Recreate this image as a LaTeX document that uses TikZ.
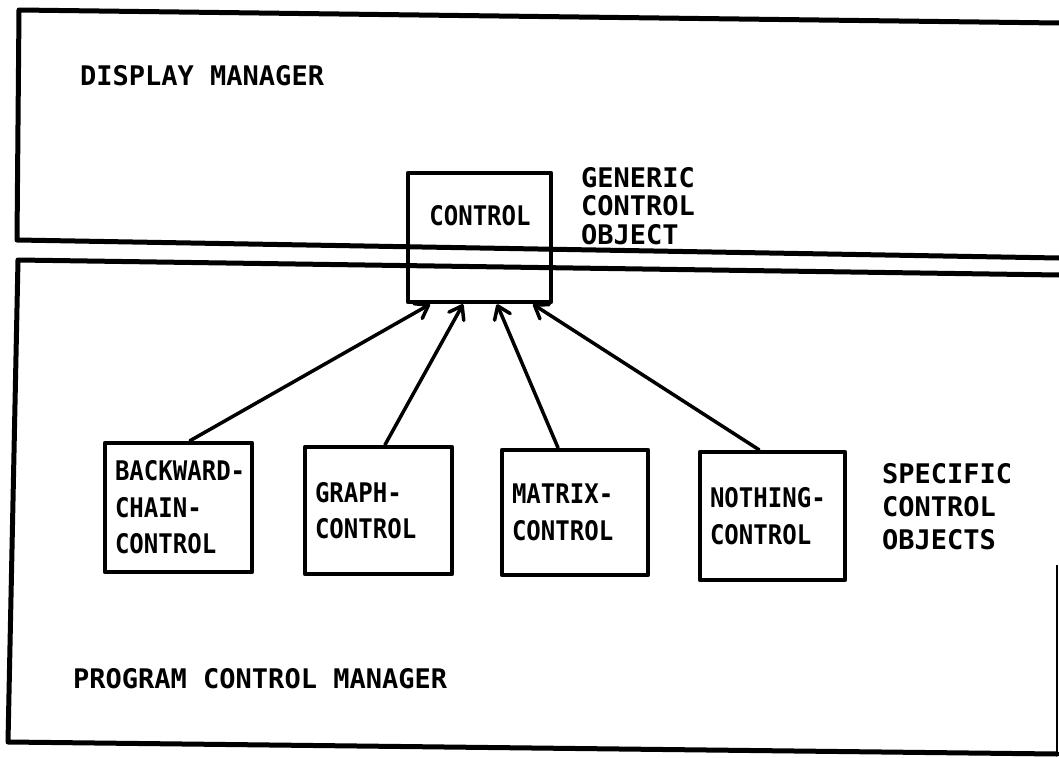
\documentclass[tikz,border=0pt]{standalone}
\usepackage{fontspec}
\newfontfamily\lblfont{DejaVu Sans Mono Bold}
\newfontfamily\boxfont{DejaVu Sans Mono Bold}[FakeStretch=0.89]
\usetikzlibrary{arrows.meta}
\begin{document}
\begin{tikzpicture}[x=1pt,y=-1pt,
  mgrframe/.style={line width=5pt, line join=round, line cap=round},
  objbox/.style={draw, line width=4.5pt, line join=round, inner xsep=10pt, inner ysep=0pt,
    align=left, font=\boxfont\fontsize{27}{36.5}\selectfont},
  boxtext/.style={inner sep=0pt, font=\boxfont\fontsize{27}{32}\selectfont},
  areatitle/.style={inner sep=0pt, anchor=north west, align=left},
  inherits/.style={line width=3.5pt, line cap=round,
    -{Straight Barb[length=12pt,width=17pt,line cap=round,line join=round]}}
]
\useasboundingbox (0,0) rectangle (1059,757);

% display manager area (open to the right)
\draw[mgrframe] (1059,258) -- (17,240) -- (19,10) -- (1059,23);
% program control manager area
\draw[mgrframe] (1059,275) -- (18,260) -- (8,742) -- (1057,754);
\draw[line width=2pt] (1057,754) -- (1057,565);

% area titles
\node[areatitle, font=\lblfont\fontsize{27}{32}\selectfont] (dm) at (80,65) {DISPLAY MANAGER};
\node[areatitle, font=\lblfont\fontsize{27}{32}\selectfont] (pcm) at (73,668) {PROGRAM CONTROL MANAGER};

% generic control object, straddling both areas
\node[objbox, minimum width=143pt, minimum height=129pt] (control) at (479.5,237.5) {};
\node[boxtext] (controltxt) at (480,216) {CONTROL};
\node[areatitle, font=\lblfont\fontsize{27}{28.5}\selectfont] (generic) at (581,167)
  {GENERIC\\CONTROL\\OBJECT};

% specific control objects
\node[objbox, text width=127pt, minimum height=129pt] (bw) at (178.5,507.5)
  {\mbox{BACKWARD-}\\\mbox{CHAIN-}\\CONTROL};
\node[objbox, text width=127pt, minimum height=127pt] (graph) at (378.5,510.5)
  {\mbox{GRAPH-}\\CONTROL};
\node[objbox, text width=126pt, minimum height=125pt] (matrix) at (575,512.5)
  {\mbox{MATRIX-}\\CONTROL};
\node[objbox, text width=125pt, minimum height=128pt] (nothing) at (772.5,516)
  {\mbox{NOTHING-}\\CONTROL};
\node[areatitle, font=\lblfont\fontsize{27}{33}\selectfont] (specific) at (882,463)
  {SPECIFIC\\CONTROL\\OBJECTS};

% inheritance links
\draw[inherits] ([xshift=11.5pt]bw.north) -- ([xshift=-49.5pt]control.south);
\draw[inherits] ([xshift=6.5pt]graph.north) -- ([xshift=-16.5pt]control.south);
\draw[inherits] ([xshift=-17pt]matrix.north) -- ([xshift=17.5pt]control.south);
\draw[inherits] ([xshift=-13.5pt]nothing.north) -- ([xshift=53.5pt]control.south);
\end{tikzpicture}
\end{document}
